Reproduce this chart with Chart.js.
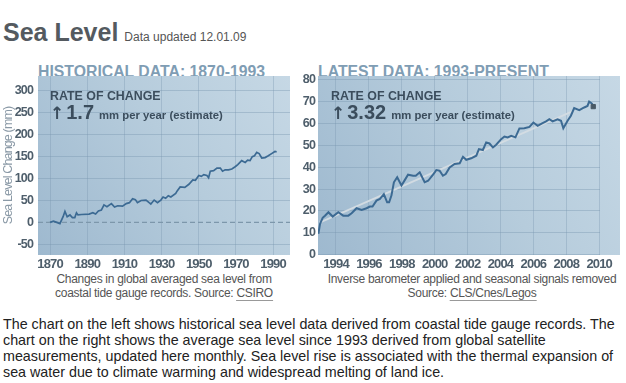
<!DOCTYPE html>
<html><head><meta charset="utf-8">
<script src="https://cdn.jsdelivr.net/npm/chart.js@4.4.0/dist/chart.umd.min.js"></script>
<style>
html,body{margin:0;padding:0;background:#fff;}
body{width:626px;height:383px;overflow:hidden;position:relative;font-family:"Liberation Sans",Arial,sans-serif;}
.abs{position:absolute;white-space:nowrap;}
#title{left:3px;top:20px;font-size:25px;line-height:25px;font-weight:bold;color:#545a60;}
#title span{font-size:12px;font-weight:normal;color:#555;margin-left:6px;}
.hdr{font-size:15.8px;line-height:15px;font-weight:bold;color:#7f9db4;top:64px;z-index:0;}
canvas{position:absolute;z-index:1;}
.ann{z-index:2;color:#3b4d5d;font-weight:bold;}
.ann1{font-size:12.4px;line-height:12px;}
.ann2{font-size:20px;line-height:20px;}
.ann2 .ar{font-family:"DejaVu Sans",sans-serif;font-size:17px;margin-right:2px;}
.ann2 .sm{font-size:11.3px;margin-left:5px;}
.cap{font-size:12px;letter-spacing:-0.3px;line-height:14px;color:#555;text-align:center;transform:translateX(-50%);}
.cap u{text-decoration:none;border-bottom:1px solid #999;}
#para{left:3px;top:316px;font-size:14.3px;line-height:16px;color:#222;}
</style>
</head><body>
<div id="title" class="abs">Sea Level<span>Data updated 12.01.09</span></div>
<div class="abs hdr" style="left:38px">HISTORICAL DATA: 1870-1993</div>
<div class="abs hdr" style="left:318px">LATEST DATA: 1993-PRESENT</div>
<canvas id="c1" width="300" height="220" style="left:0;top:60px"></canvas>
<canvas id="c2" width="336" height="220" style="left:290px;top:60px"></canvas>
<div class="abs ann ann1" style="left:50px;top:90px">RATE OF CHANGE</div>
<div class="abs ann ann2" style="left:50px;top:102px"><span class="ar">↑</span>1.7<span class="sm">mm per year (estimate)</span></div>
<div class="abs ann ann1" style="left:331px;top:90px">RATE OF CHANGE</div>
<div class="abs ann ann2" style="left:331px;top:102px"><span class="ar">↑</span>3.32<span class="sm">mm per year (estimate)</span></div>
<div class="abs cap" style="left:164px;top:272px">Changes in global averaged sea level from<br>coastal tide gauge records. Source: <u>CSIRO</u></div>
<div class="abs cap" style="left:472px;top:272px">Inverse barometer applied and seasonal signals removed<br>Source: <u>CLS/Cnes/Legos</u></div>
<div id="para" class="abs">The chart on the left shows historical sea level data derived from coastal tide gauge records. The<br>chart on the right shows the average sea level since 1993 derived from global satellite<br>measurements, updated here monthly. Sea level rise is associated with the thermal expansion of<br>sea water due to climate warming and widespread melting of land ice.</div>
<script>
// ---- Historical (tide gauge) data, mm ----
const histYears = [1870,1871.8,1873.6,1875.3,1877,1878,1879.2,1880.7,1882,1883.3,1884.2,1885,1887,1891,1893,1894.5,1896,1897.6,1899,1900.6,1903,1904.7,1906.4,1909,1911,1912.7,1914.4,1915.9,1917,1919,1921.6,1923.3,1924.2,1926,1927.8,1929.6,1930.8,1932.2,1933.6,1935,1937.6,1938.4,1940,1942.5,1944.7,1946.8,1948.2,1950,1951.4,1952.7,1954.4,1955.3,1956.2,1958,1959.8,1961.6,1962.8,1964.2,1966,1967.8,1969.6,1971,1973.1,1975,1976.3,1977.6,1978.8,1980,1981.2,1982.5,1983.9,1985.7,1987.4,1989.2,1991,1991.9];
const histValues = [0,3,0,-3,13,25,13,17,11,11,22,17,18,19,22,19,26,28,40,36,43,35,38,37,43,45,54,52,45,50,51,45,42,51,45,51,58,55,61,58,66,72,81,80,87,97,96,107,105,109,107,102,117,118,124,124,117,120,120,122,127,132,141,137,142,141,150,152,160,157,147,148,152,157,162,161];
const histXTicks = [1870,1890,1910,1930,1950,1970,1990];
const histYTicks = [-50,0,50,100,150,200,250,300];

// ---- Satellite data, mm ----
const satYears = [1992.93,1993.03,1993.19,1993.33,1993.54,1993.8,1994.14,1994.44,1994.75,1994.95,1995.25,1995.56,1995.86,1996.06,1996.22,1996.46,1996.67,1996.91,1997.11,1997.23,1997.37,1997.52,1997.72,1997.98,1998.18,1998.38,1998.69,1998.85,1999.09,1999.39,1999.6,1999.9,2000.1,2000.3,2000.5,2000.67,2000.91,2001.21,2001.52,2001.72,2001.92,2002.22,2002.53,2002.69,2002.93,2003.13,2003.33,2003.54,2003.74,2004.04,2004.24,2004.44,2004.65,2004.91,2005.15,2005.45,2005.76,2006.0,2006.26,2006.53,2006.77,2006.97,2007.17,2007.47,2007.68,2007.82,2008.08,2008.28,2008.48,2008.79,2009.09,2009.29,2009.39,2009.56,2009.64];
const satValues = [9.5,14.0,16.8,17.8,19.4,17.4,19.4,17.8,17.8,18.9,21.2,20.4,21.2,22.0,22.0,24.7,25.5,27.7,23.9,23.9,27.0,33.1,35.4,31.6,34.1,36.6,36.1,36.1,37.7,33.1,33.8,36.6,38.7,38.4,36.1,36.9,39.9,41.5,41.8,44.8,43.4,44.1,45.3,48.3,47.9,51.4,50.9,49.1,50.3,52.9,54.1,53.7,54.4,53.7,57.8,57.9,58.5,60.5,59.0,60.1,61.0,62.0,61.0,62.0,61.3,57.9,61.3,63.6,67.1,66.2,67.4,68.1,70.1,69.2,67.8];
const trendYears = [1993.0, 2008.4];
const trendValues = [14.6, 65.7];
const satXTicks = [1994,1996,1998,2000,2002,2004,2006,2008,2010];
const satYTicks = [0,10,20,30,40,50,60,70,80];

const pts = (xs, ys) => xs.map((x, i) => ({x, y: ys[i]}));

const TICK_COLOR = '#4e5e6b';
const TICK_FONT = "'Liberation Sans',Arial,sans-serif";

const panelBg = {
  id: 'panelBg',
  beforeDraw(chart, args, opts) {
    const {ctx, chartArea: a} = chart;
    const r = a.right + (opts.extend || 0);
    const g = ctx.createLinearGradient(a.left, a.bottom, r, a.top);
    g.addColorStop(0, '#9eb9cf');
    g.addColorStop(0.55, '#b6ccdc');
    g.addColorStop(1, '#c6d8e5');
    ctx.save();
    ctx.fillStyle = g;
    ctx.fillRect(a.left, a.top, r - a.left, a.bottom - a.top);
    ctx.restore();
    ctx.letterSpacing = '-0.85px';
  },
  afterDraw(chart) { chart.ctx.letterSpacing = '0px'; }
};

function axisX(min, max, tickVals) {
  return {
    type: 'linear', min, max,
    afterBuildTicks: s => { s.ticks = tickVals.map(v => ({value: v})); },
    afterFit: s => { s.height = 25; },
    ticks: {color: TICK_COLOR, font: {family: TICK_FONT, size: 13, weight: 'bold'}, padding: 2, maxRotation: 0, autoSkip: false, callback: v => String(v)},
    grid: {color: 'rgba(120,150,175,0.35)', drawTicks: false},
    border: {display: false}
  };
}
function axisY(min, max, tickVals, width, pad, extra) {
  return Object.assign({
    type: 'linear', min, max,
    afterBuildTicks: s => { s.ticks = tickVals.map(v => ({value: v})); },
    afterFit: s => { s.width = width; },
    ticks: {color: TICK_COLOR, font: {family: TICK_FONT, size: 12.5, weight: 'bold'}, padding: pad, callback: v => String(v)},
    grid: {color: c => (c.tick && c.tick.value === 0 && extra.hideZero) ? 'rgba(0,0,0,0)' : 'rgba(120,150,175,0.4)', drawTicks: false},
    border: {display: false}
  }, extra.title ? {title: extra.title} : {});
}

const common = {
  responsive: false, animation: false, devicePixelRatio: 1,
  plugins: {legend: {display: false}, tooltip: {enabled: false}}
};

const hMin = 1863.5, hMax = 1999.1;
new Chart(document.getElementById('c1'), {
  type: 'line',
  plugins: [panelBg],
  data: {datasets: [
    {data: pts(histYears, histValues), borderColor: '#3c6a93', borderWidth: 1.7, pointRadius: 0, tension: 0, order: 0},
    {data: [{x: hMin, y: 0}, {x: hMax, y: 0}], borderColor: '#7d97ab', borderWidth: 1.2, borderDash: [5, 3], pointRadius: 0, order: 1}
  ]},
  options: Object.assign({}, common, {
    layout: {padding: {top: 16, right: 10, left: 0, bottom: 0}},
    plugins: Object.assign({}, common.plugins, {panelBg: {extend: 0}}),
    scales: {
      x: axisX(hMin, hMax, histXTicks),
      y: axisY(-74.4, 334.2, histYTicks, 38, 5, {hideZero: true, title: {display: true, text: 'Sea Level Change (mm)', color: '#8a99a6', font: {family: "'Liberation Sans',Arial,sans-serif", size: 12.5}, padding: {top: 1, bottom: 0}}})
    }
  })
});

new Chart(document.getElementById('c2'), {
  type: 'line',
  plugins: [panelBg],
  data: {datasets: [
    {data: pts(satYears, satValues), borderColor: '#3c6a93', borderWidth: 2, pointRadius: 0, tension: 0, order: 0},
    {data: pts(trendYears, trendValues), borderColor: 'rgba(212,220,227,0.95)', borderWidth: 1.8, pointRadius: 0, order: 1},
    {data: [{x: satYears[satYears.length - 1], y: satValues[satValues.length - 1]}], showLine: false, pointStyle: 'rect', pointRadius: 3, pointBackgroundColor: '#4a5a66', pointBorderColor: '#4a5a66', order: -1}
  ]},
  options: Object.assign({}, common, {
    layout: {padding: {top: 16, right: 26, left: 0, bottom: 0}},
    plugins: Object.assign({}, common.plugins, {panelBg: {extend: 20}}),
    scales: {
      x: axisX(1992.906, 2010.05, satXTicks),
      y: axisY(-0.23, 81.83, satYTicks, 28, 3, {hideZero: false})
    }
  })
});
</script>
</body></html>
